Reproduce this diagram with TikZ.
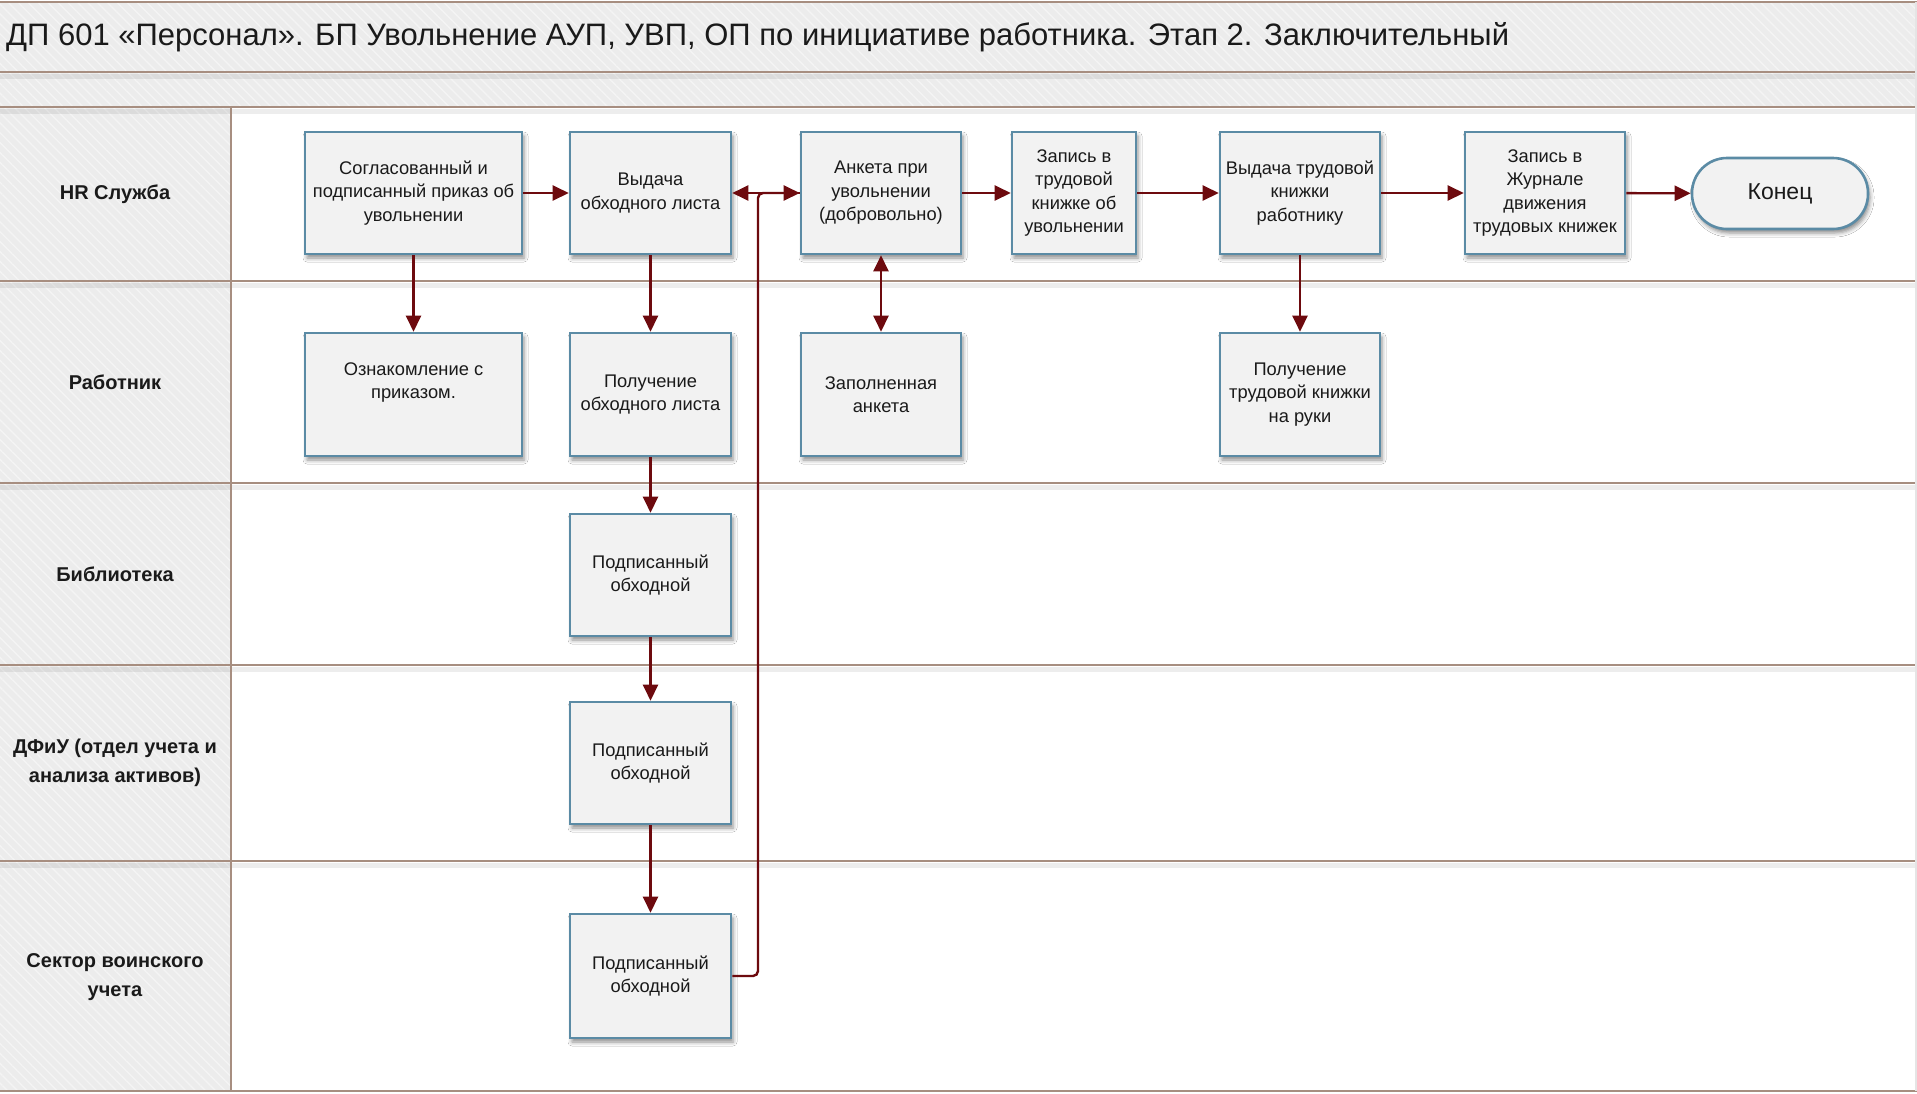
\documentclass[tikz,border=0pt]{standalone}
\usepackage{fontspec}
\setmainfont{Liberation Sans}
\usetikzlibrary{arrows.meta,shadows.blur,patterns.meta,calc}

\definecolor{bandgrey}{HTML}{ECECEC}
\definecolor{stripe}{HTML}{F4F4F4}
\definecolor{laneline}{HTML}{A78E80}
\definecolor{boxfill}{HTML}{F2F2F2}
\definecolor{boxline}{HTML}{5B8BA5}
\definecolor{flowred}{HTML}{6D0A0E}
\definecolor{ink}{HTML}{1A1A1A}

\tikzset{
  x=1pt, y=-1pt,
  band/.style={fill=bandgrey},
  stripes/.style={pattern={Lines[angle=-45,distance=7pt,line width=1.4pt]}, pattern color=stripe},
  sep/.style={draw=laneline, line width=2pt},
  sepshadow/.style={draw=black, opacity=0.07, line width=5pt},
  stepbox/.style={draw=boxline, line width=2.6pt, fill=boxfill, text=ink,
    align=center, inner sep=2pt,
    font=\fontsize{18.3}{23.5}\selectfont,
    blur shadow={shadow xshift=2pt, shadow yshift=-4pt, shadow blur radius=4pt, shadow opacity=45}},
  endbox/.style={stepbox, rounded corners=35pt, font=\fontsize{23}{27}\selectfont},
  lanelabel/.style={text=ink, align=center, font=\fontsize{20}{29}\selectfont\bfseries},
  tip/.style={Triangle[length=16pt,width=15pt]},
  flow/.style={draw=flowred, line width=2.4pt, -{Triangle[length=16pt,width=15pt]}},
  flowboth/.style={draw=flowred, line width=2.4pt, {Triangle[length=16pt,width=15pt]}-{Triangle[length=16pt,width=15pt]}},
}

\begin{document}
\begin{tikzpicture}
\useasboundingbox (0,0) rectangle (1917,1093);
\fill[white] (0,0) rectangle (1917,1093);

% grey header bands and lane title column
\fill[band] (0,2) rectangle (1917,107);
\fill[band] (0,107) rectangle (231,1091);
\fill[stripes] (0,2) rectangle (1917,107);
\fill[stripes] (0,107) rectangle (231,1091);

% soft shadows under the separators
\foreach \yy in {72,107,281,483,665,861} {
  \draw[sepshadow] (0,\yy+4) -- (1917,\yy+4);
}
% separators
\foreach \yy in {2,72,107,281,483,665,861,1091} {
  \draw[sep] (0,\yy) -- (1917,\yy);
}
\draw[sep] (231,107) -- (231,1091);
\draw[draw=black!10, line width=2pt] (1916,2) -- (1916,1091);

% title
\node[anchor=west, text=ink, font=\fontsize{31}{36}\selectfont, inner sep=0pt] (title) at (6,37)
  {ДП 601 «Персонал». БП Увольнение АУП, УВП, ОП по инициативе работника. Этап 2. Заключительный};

% lane titles
\node[lanelabel] (lhr)  at (115,194) {HR Служба};
\node[lanelabel] (lemp) at (115,382) {Работник};
\node[lanelabel] (llib) at (115,574) {Библиотека};
\node[lanelabel] (lfin) at (115,763) {ДФиУ (отдел учета и\\анализа активов)};
\node[lanelabel] (lmil) at (115,977) {Сектор воинского\\учета};

% HR lane
\node[stepbox, minimum width=217pt, minimum height=122pt] (b1) at (413.5,193) {Согласованный и\\подписанный приказ об\\увольнении};
\node[stepbox, minimum width=161pt, minimum height=122pt] (b2) at (650.5,193) {Выдача\\обходного листа};
\node[stepbox, minimum width=160pt, minimum height=122pt] (b3) at (881,193) {Анкета при\\увольнении\\(добровольно)};
\node[stepbox, minimum width=124pt, minimum height=122pt] (b4) at (1074,193) {Запись в\\трудовой\\книжке об\\увольнении};
\node[stepbox, minimum width=160pt, minimum height=122pt] (b5) at (1300,193) {Выдача трудовой\\книжки\\работнику};
\node[stepbox, minimum width=160pt, minimum height=122pt] (b6) at (1545,193) {Запись в\\Журнале\\движения\\трудовых книжек};
\node[endbox, minimum width=176pt, minimum height=71pt] (fin) at (1780,193.5) {Конец};

% employee lane
\node[stepbox, minimum width=217pt, minimum height=123pt] (e1) at (413.5,394.5) {};
\node[text=ink, align=center, font=\fontsize{18.3}{23.5}\selectfont] (e1t) at (413.5,382.5) {Ознакомление с\\приказом.};
\node[stepbox, minimum width=161pt, minimum height=123pt] (e2) at (650.5,394.5) {Получение\\обходного листа};
\node[stepbox, minimum width=160pt, minimum height=123pt] (e3) at (881,394.5) {Заполненная\\анкета};
\node[stepbox, minimum width=160pt, minimum height=123pt] (e5) at (1300,394.5) {Получение\\трудовой книжки\\на руки};

% library, accounting and military record lanes
\node[stepbox, minimum width=161pt, minimum height=122pt] (s3) at (650.5,575) {Подписанный\\обходной};
\node[stepbox, minimum width=161pt, minimum height=122pt] (s4) at (650.5,763) {Подписанный\\обходной};
\node[stepbox, minimum width=161pt, minimum height=124pt] (s5) at (650.5,976) {Подписанный\\обходной};

% connectors
\coordinate (ret) at (758,0);
\draw[flow] (b1) -- (b2);
\draw[flow] (b3) -- (b2);
\draw[flow, rounded corners=5pt] (s5.east) -| (ret |- b3.west) -- (b3.west);
\draw[flow] (b3) -- (b4);
\draw[flow] (b4) -- (b5);
\draw[flow] (b5) -- (b6);
\draw[flow] (b6) -- (fin);

\draw[flow] (b1) -- (e1);
\draw[flow] (b2) -- (e2);
\draw[flowboth] (b3) -- (e3);
\draw[flow] (b5) -- (e5);
\draw[flow] (e2) -- (s3);
\draw[flow] (s3) -- (s4);
\draw[flow] (s4) -- (s5);
\end{tikzpicture}
\end{document}
